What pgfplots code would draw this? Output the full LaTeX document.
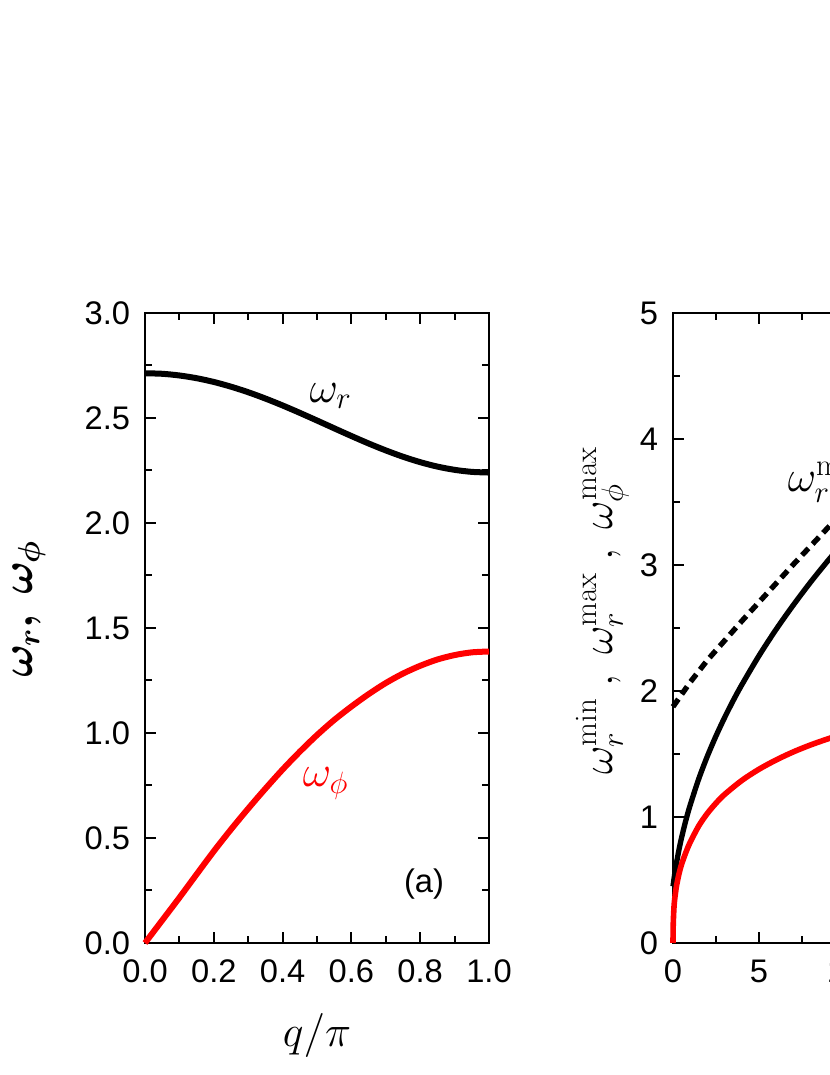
\RequirePackage{fix-cm}
\documentclass[border=0pt]{standalone}
\usepackage[no-math]{fontspec}
\setmainfont{Liberation Sans}
\usepackage{bm}
\usepackage{pgfplots}
\pgfplotsset{compat=1.18}
\definecolor{myred}{RGB}{255,0,0}

\begin{document}
\begin{tikzpicture}
\useasboundingbox (0,0) rectangle (622.5pt,806.25pt);
\clip (0,0) rectangle (622.5pt,806.25pt);
\pgfplotsset{
  myaxis/.style={
    scale only axis, width=258pt, height=472.5pt, anchor=south west,
    axis line style={line width=1.5pt},
    every tick/.style={line width=1.5pt, black},
    major tick length=8.25pt, minor tick length=5pt,
    tick align=inside, xtick pos=both, ytick pos=both,
    tick label style={font=\fontsize{24.5}{28}\selectfont, inner sep=0pt},
    xticklabel style={yshift=-12.5pt},
    yticklabel style={xshift=-11pt},
    label style={font=\fontsize{33}{38}\selectfont},
    clip=false,
  }
}
% ---------------- panel (a)
\begin{axis}[myaxis, at={(108.75pt,99pt)},
  xmin=0, xmax=1, ymin=0, ymax=3,
  xtick={0,0.2,0.4,0.6,0.8,1}, xticklabels={0.0,0.2,0.4,0.6,0.8,1.0},
  minor xtick={0.1,0.3,0.5,0.7,0.9},
  ytick={0,0.5,1,1.5,2,2.5,3}, yticklabels={0.0,0.5,1.0,1.5,2.0,2.5,3.0},
  minor ytick={0.25,0.75,1.25,1.75,2.25,2.75},
  xlabel={$q/\pi$},
  xlabel style={at={(axis description cs:0.5,-0.165)}, anchor=base},
  ylabel={$\bm{\omega_r,\ \omega_\phi}$},
  ylabel style={at={(axis description cs:-0.326,0.53)}, anchor=base},
]
\addplot[black, line width=4.5pt, smooth] coordinates {
(0,2.713) (0.05,2.7105) (0.1,2.7025) (0.15,2.6895) (0.2,2.6716) (0.25,2.6491)
(0.3,2.6227) (0.35,2.5926) (0.4,2.5597) (0.45,2.5245) (0.5,2.4880) (0.55,2.4509)
(0.6,2.4142) (0.65,2.3787) (0.7,2.3456) (0.75,2.3156) (0.8,2.2897) (0.85,2.2686)
(0.9,2.2531) (0.95,2.2435) (1.0,2.2403)};
\addplot[myred, line width=4.5pt, smooth] coordinates {
(0,0) (0.05,0.108) (0.1,0.216) (0.15,0.327) (0.2,0.437) (0.25,0.541)
(0.3,0.640) (0.35,0.735) (0.4,0.826) (0.45,0.911) (0.5,0.990) (0.55,1.062)
(0.6,1.126) (0.65,1.185) (0.7,1.238) (0.75,1.283) (0.8,1.320) (0.85,1.350)
(0.9,1.371) (0.95,1.384) (1.0,1.388)};
\node[anchor=base west, font=\fontsize{33}{38}\selectfont] at (axis cs:0.465,2.576) {$\omega_r$};
\node[anchor=base west, font=\fontsize{33}{38}\selectfont, text=myred] at (axis cs:0.445,0.743) {$\omega_\phi$};
\node[font=\fontsize{24.5}{28}\selectfont] at (axis cs:0.811,0.281) {(a)};
\end{axis}
% ---------------- panel (b)
\begin{axis}[myaxis, at={(504.75pt,99pt)},
  xmin=0, xmax=20, ymin=0, ymax=5,
  xtick={0,5,10,15,20}, xticklabels={0,5,10,15,20},
  minor xtick={2.5,7.5,12.5,17.5},
  ytick={0,1,2,3,4,5}, yticklabels={0,1,2,3,4,5},
  minor ytick={0.5,1.5,2.5,3.5,4.5},
  ylabel={$\omega_r^{\mathrm{min}}\ ,\ \omega_r^{\mathrm{max}}\ ,\ \omega_\phi^{\mathrm{max}}$},
  ylabel style={at={(axis description cs:-0.177,0.527)}, anchor=base},
]
\addplot[black, line width=4pt, dash pattern=on 7pt off 4.5pt] coordinates {
(0,1.875) (1,2.07) (2,2.245) (3,2.40) (4,2.555) (5,2.705) (6,2.855)
(7,3.005) (8,3.15) (9,3.295) (10,3.44)};
\addplot[black, line width=4pt, smooth] coordinates {
(0,0.45) (0.1,0.548) (0.2,0.632) (0.35,0.742) (0.5,0.837) (0.75,0.975) (1.0,1.095)
(1.5,1.304) (2.0,1.483) (2.5,1.643) (3.0,1.789) (3.5,1.924) (4.0,2.049)
(5.0,2.280) (6.0,2.490) (7.0,2.683) (8.0,2.864) (9.0,3.033) (10.0,3.194)};
\addplot[myred, line width=4.2pt, smooth] coordinates {
(0,0) (0.01,0.13) (0.03,0.21) (0.06,0.29) (0.1,0.35) (0.2,0.45) (0.35,0.55)
(0.5,0.625) (0.75,0.72) (1.0,0.80) (1.5,0.930) (2.0,1.029) (2.5,1.110)
(3.0,1.179) (4.0,1.290) (5.0,1.379) (6.0,1.453) (7.0,1.517) (8.0,1.572)
(9.0,1.620) (10.0,1.665)};
\node[anchor=base west, font=\fontsize{33}{38}\selectfont] at (axis cs:6.4,3.58) {$\omega_r^{\mathrm{max}}$};
\end{axis}
\end{tikzpicture}
\end{document}
